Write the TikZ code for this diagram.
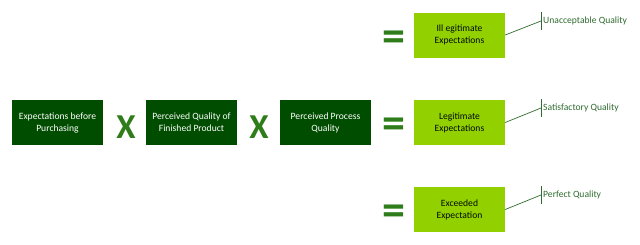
\documentclass[tikz,border=0pt]{standalone}
\usepackage{fontspec}
\setmainfont{Carlito}
\usepackage{xcolor}
\usetikzlibrary{positioning}

\definecolor{darkgreen}{HTML}{004D00}
\definecolor{limegreen}{HTML}{92D000}
\definecolor{signgreen}{HTML}{2E7D1A}
\definecolor{notegreen}{HTML}{2E6B2E}

\begin{document}
\begin{tikzpicture}[
  x=1pt, y=-1pt,
  factor/.style={fill=darkgreen, text=white, minimum width=91pt, minimum height=45pt, inner sep=1pt, align=center, font=\fontsize{9.6}{12}\selectfont},
  result/.style={fill=limegreen, text=black!85!darkgreen, minimum width=91pt, minimum height=45pt, inner sep=1pt, align=center, font=\fontsize{9.6}{12}\selectfont},
  times/.style={text=signgreen, inner sep=0pt, font=\fontsize{35}{35}\selectfont\bfseries},
  equals/.style={text=signgreen, inner sep=0pt, font=\fontsize{46}{46}\selectfont\bfseries},
  note/.style={text=notegreen, inner sep=1pt, anchor=west, font=\fontsize{9.6}{12}\selectfont},
  callout/.style={draw=notegreen, line width=0.7pt}
]
\useasboundingbox (0,0) rectangle (640,244);

% factors
\node[factor] (before) at (57.5,122.5) {Expectations before\\Purchasing};
\node[factor] (product) at (191.5,122.5) {Perceived Quality of\\Finished Product};
\node[factor] (process) at (325.5,122.5) {Perceived Process\\Quality};
\node[times] (x1) at (126,127) {X};
\node[times] (x2) at (259,127) {X};

% outcomes
\node[result] (illeg) at (459.5,35) {Ill egitimate\\Expectations};
\node[result] (legit) at (459.5,122.5) {Legitimate\\Expectations};
\node[result] (exceed) at (459.5,209.5) {Exceeded\\Expectation};
\node[equals] (eq1) at (393.5,41) {=};
\node[equals] (eq2) at (393.5,128) {=};
\node[equals] (eq3) at (393.5,215) {=};

% callouts
\coordinate (c1) at (541,21);
\coordinate (c2) at (541,108);
\coordinate (c3) at (541,195);
\node[note] (unacc) at (542,21) {Unacceptable Quality};
\node[note] (satis) at (542,108) {Satisfactory Quality};
\node[note] (perf) at (542,195) {Perfect Quality};

\draw[callout] (illeg.east) -- (c1);
\draw[callout] (legit.east) -- (c2);
\draw[callout] (exceed.east) -- (c3);
\draw[callout] ([yshift=-9pt]c1) -- ([yshift=9pt]c1);
\draw[callout] ([yshift=-9pt]c2) -- ([yshift=9pt]c2);
\draw[callout] ([yshift=-9pt]c3) -- ([yshift=9pt]c3);
\end{tikzpicture}
\end{document}
